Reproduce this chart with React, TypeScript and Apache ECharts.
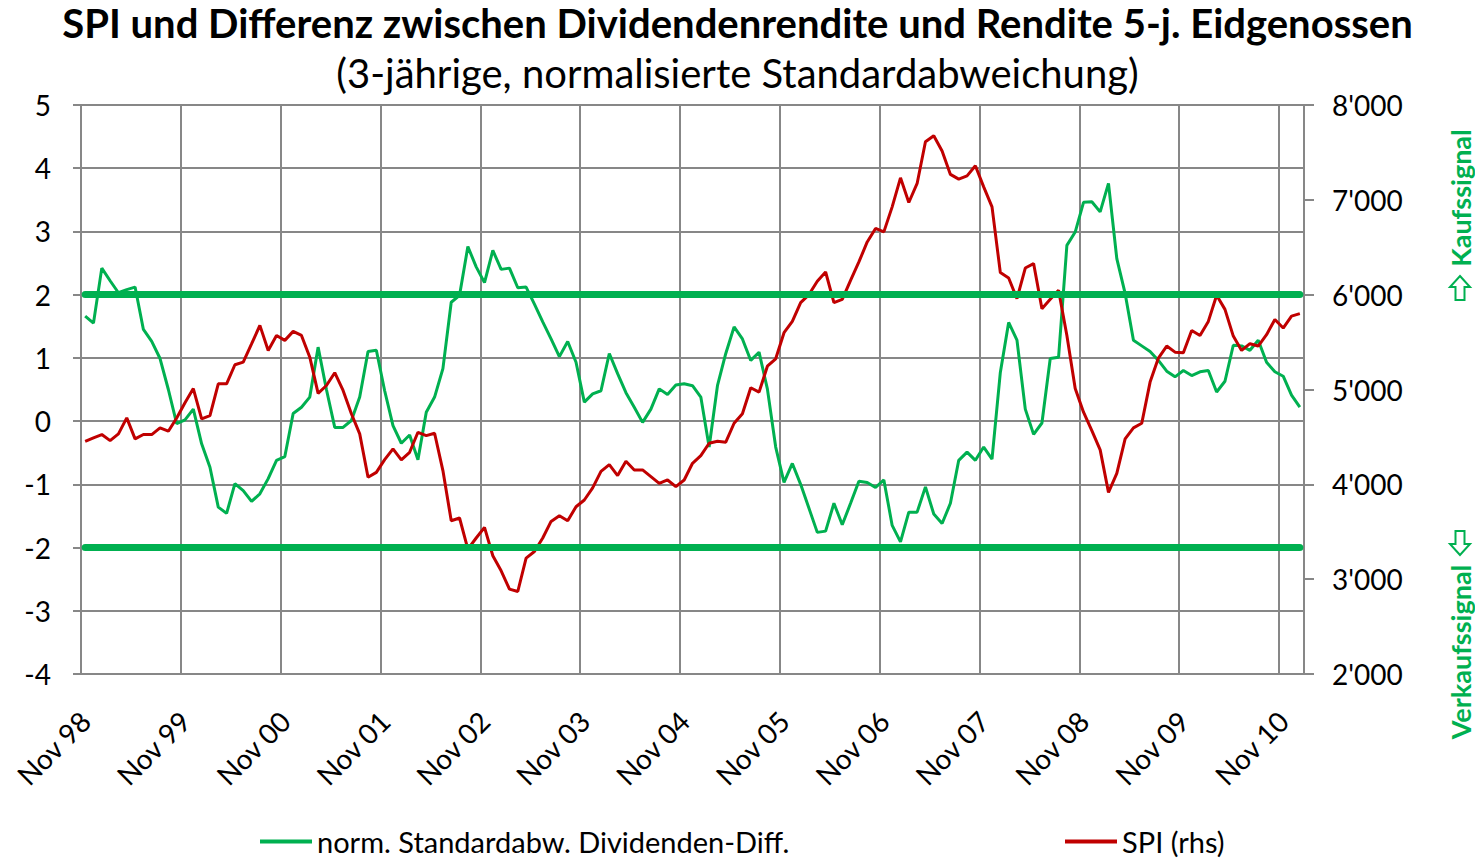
import React, { useEffect, useRef } from "react";
import * as echarts from "echarts";

const MONTHS = ["Jan", "Feb", "Mär", "Apr", "Mai", "Jun", "Jul", "Aug", "Sep", "Okt", "Nov", "Dez"];
const START_YEAR = 1998;
const START_MONTH = 10; // November
const N_POINTS = 147;

const categories: string[] = [];
for (let i = 0; i < N_POINTS; i++) {
  const m = (START_MONTH + i) % 12;
  const y = START_YEAR + Math.floor((START_MONTH + i) / 12);
  categories.push(MONTHS[m] + " " + String(y % 100).padStart(2, "0"));
}

const GREEN_NAME = "norm. Standardabw. Dividenden-Diff.";
const RED_NAME = "SPI (rhs)";

const greenValues = [
  1.66, 1.55, 2.42, 2.22, 2.03, 2.08, 2.12, 1.45, 1.26, 0.99, 0.5, -0.04,
  0.02, 0.19, -0.36, -0.73, -1.36, -1.46, -0.99, -1.1, -1.27, -1.15, -0.91, -0.62,
  -0.56, 0.12, 0.22, 0.38, 1.17, 0.5, -0.1, -0.1, 0.01, 0.38, 1.1, 1.12,
  0.48, -0.07, -0.35, -0.22, -0.61, 0.14, 0.38, 0.83, 1.88, 1.99, 2.76, 2.44,
  2.19, 2.7, 2.4, 2.42, 2.11, 2.12, 1.85, 1.57, 1.3, 1.02, 1.26, 0.93,
  0.3, 0.43, 0.48, 1.07, 0.75, 0.45, 0.22, -0.02, 0.19, 0.51, 0.42, 0.57,
  0.59, 0.56, 0.38, -0.41, 0.56, 1.07, 1.49, 1.3, 0.96, 1.09, 0.51, -0.41,
  -0.97, -0.67, -1.0, -1.38, -1.76, -1.74, -1.3, -1.64, -1.3, -0.95, -0.97, -1.05,
  -0.93, -1.65, -1.91, -1.44, -1.44, -1.04, -1.47, -1.62, -1.3, -0.62, -0.49, -0.62,
  -0.41, -0.6, 0.77, 1.56, 1.28, 0.19, -0.21, -0.03, 0.99, 1.01, 2.78, 2.99,
  3.46, 3.47, 3.31, 3.76, 2.57, 2.02, 1.28, 1.19, 1.1, 0.96, 0.79, 0.7,
  0.8, 0.72, 0.78, 0.8, 0.46, 0.63, 1.2, 1.19, 1.12, 1.28, 0.93, 0.78,
  0.71, 0.41, 0.22,
];

const spiValues = [
  4454, 4490, 4525, 4461, 4532, 4701, 4479, 4525, 4525, 4596, 4560, 4700,
  4860, 5010, 4691, 4725, 5060, 5060, 5261, 5289, 5480, 5676, 5412, 5570,
  5518, 5613, 5570, 5341, 4960, 5042, 5177, 4990, 4744, 4532, 4074, 4126,
  4260, 4374, 4258, 4338, 4549, 4514, 4539, 4145, 3616, 3645, 3317, 3434,
  3546, 3247, 3088, 2895, 2870, 3222, 3292, 3434, 3609, 3669, 3616, 3764,
  3835, 3962, 4137, 4208, 4092, 4243, 4152, 4152, 4081, 4010, 4046, 3975,
  4046, 4222, 4303, 4433, 4454, 4444, 4644, 4744, 5018, 4972, 5246, 5324,
  5599, 5718, 5916, 6001, 6141, 6239, 5916, 5951, 6151, 6345, 6556, 6698,
  6662, 6926, 7232, 6972, 7173, 7612, 7676, 7514, 7268, 7218, 7253, 7359,
  7137, 6926, 6233, 6176, 5958, 6281, 6328, 5852, 5951, 6046, 5570, 5010,
  4761, 4567, 4363, 3915, 4116, 4479, 4596, 4644, 5078, 5331, 5458, 5394,
  5387, 5623, 5570, 5718, 5993, 5845, 5563, 5412, 5483, 5458, 5578, 5739,
  5648, 5774, 5800,
];

const THRESHOLDS = [2, -2];

const TITLE = "SPI und Differenz zwischen Dividendenrendite und Rendite 5-j. Eidgenossen";
const SUBTITLE = "(3-jährige, normalisierte Standardabweichung)";
const BUY_LABEL = "Kaufssignal";
const SELL_LABEL = "Verkaufssignal";

const FONT = "Lato, 'Open Sans', sans-serif";
const GRID_COLOR = "#878787";
const GREEN = "#00B050";
const RED = "#C00000";

// outline arrow shape (pointing up), local coordinates
const ARROW_UP = [
  [0, -12],
  [10, -1],
  [4.5, -1],
  [4.5, 12],
  [-4.5, 12],
  [-4.5, -1],
  [-10, -1],
];

export default function App() {
  const ref = useRef<HTMLDivElement>(null);

  useEffect(() => {
    if (!ref.current) return;
    const chart = echarts.init(ref.current, undefined, { renderer: "svg" });
    const lastCat = categories[categories.length - 1];
    chart.setOption({
      animation: false,
      backgroundColor: "#ffffff",
      textStyle: { fontFamily: FONT },
      title: [
        {
          text: TITLE,
          left: "center",
          top: 2,
          padding: 0,
          textStyle: { fontSize: 40, lineHeight: 42, fontWeight: "bold", color: "#000", fontFamily: FONT },
        },
        {
          text: SUBTITLE,
          left: "center",
          top: 52,
          padding: 0,
          textStyle: { fontSize: 40, lineHeight: 42, fontWeight: "normal", color: "#000", fontFamily: FONT },
        },
      ],
      legend: [
        {
          data: [GREEN_NAME],
          left: 260,
          top: 826,
          icon: "rect",
          itemWidth: 52,
          itemHeight: 4,
          padding: 0,
          textStyle: { fontSize: 29, lineHeight: 31, color: "#000", fontFamily: FONT },
        },
        {
          data: [RED_NAME],
          left: 1065,
          top: 826,
          icon: "rect",
          itemWidth: 52,
          itemHeight: 4,
          padding: 0,
          textStyle: { fontSize: 29, lineHeight: 31, color: "#000", fontFamily: FONT },
        },
      ],
      grid: { left: 81, right: 171, top: 105, bottom: 185, containLabel: false },
      xAxis: {
        type: "category",
        data: categories,
        boundaryGap: true,
        axisLine: { show: true, lineStyle: { color: GRID_COLOR, width: 2 } },
        axisTick: { show: false },
        axisLabel: {
          interval: 11,
          rotate: 45,
          fontSize: 28,
          color: "#000",
          margin: 42,
          fontFamily: FONT,
        },
        splitLine: { show: true, interval: 11, lineStyle: { color: GRID_COLOR, width: 2 } },
      },
      yAxis: [
        {
          type: "value",
          min: -4,
          max: 5,
          interval: 1,
          position: "left",
          axisLine: { show: true, lineStyle: { color: GRID_COLOR, width: 2 } },
          axisTick: { show: true, length: 8, lineStyle: { color: GRID_COLOR, width: 2 } },
          axisLabel: { fontSize: 28, color: "#000", margin: 30, fontFamily: FONT },
          splitLine: { show: true, lineStyle: { color: GRID_COLOR, width: 2 } },
        },
        {
          type: "value",
          min: 2000,
          max: 8000,
          interval: 1000,
          position: "right",
          axisLine: { show: true, lineStyle: { color: GRID_COLOR, width: 2 } },
          axisTick: { show: true, length: 10, lineStyle: { color: GRID_COLOR, width: 2 } },
          axisLabel: {
            fontSize: 28,
            color: "#000",
            margin: 28,
            fontFamily: FONT,
            formatter: (v: number) => {
              const th = Math.floor(v / 1000);
              const rest = String(v % 1000).padStart(3, "0");
              return th + "'" + rest;
            },
          },
          splitLine: { show: false },
        },
      ],
      series: [
        {
          name: GREEN_NAME,
          type: "line",
          data: greenValues,
          yAxisIndex: 0,
          symbol: "none",
          showSymbol: false,
          lineStyle: { color: GREEN, width: 3 },
          itemStyle: { color: GREEN },
          z: 3,
          markLine: {
            silent: true,
            symbol: ["none", "none"],
            label: { show: false },
            lineStyle: { color: GREEN, width: 7, type: "solid", cap: "round" },
            data: THRESHOLDS.map((t) => [
              { xAxis: categories[0], yAxis: t },
              { xAxis: lastCat, yAxis: t },
            ]),
          },
        },
        {
          name: RED_NAME,
          type: "line",
          data: spiValues,
          yAxisIndex: 1,
          symbol: "none",
          showSymbol: false,
          lineStyle: { color: RED, width: 3 },
          itemStyle: { color: RED },
          z: 4,
        },
      ],
      graphic: [
        {
          type: "text",
          x: 1460,
          y: 198,
          rotation: Math.PI / 2,
          style: {
            text: BUY_LABEL,
            fill: GREEN,
            font: "bold 27px " + FONT,
            align: "center",
            verticalAlign: "middle",
          },
        },
        {
          type: "polygon",
          x: 1460,
          y: 288,
          shape: { points: ARROW_UP },
          style: { fill: "#ffffff", stroke: GREEN, lineWidth: 2 },
        },
        {
          type: "text",
          x: 1460,
          y: 652,
          rotation: Math.PI / 2,
          style: {
            text: SELL_LABEL,
            fill: GREEN,
            font: "bold 27px " + FONT,
            align: "center",
            verticalAlign: "middle",
          },
        },
        {
          type: "polygon",
          x: 1460,
          y: 543,
          rotation: Math.PI,
          shape: { points: ARROW_UP },
          style: { fill: "#ffffff", stroke: GREEN, lineWidth: 2 },
        },
      ],
    });
    return () => chart.dispose();
  }, []);

  return (
    <div
      ref={ref}
      style={{ position: "fixed", left: 0, top: 0, width: 1475, height: 859, background: "#fff" }}
    />
  );
}
